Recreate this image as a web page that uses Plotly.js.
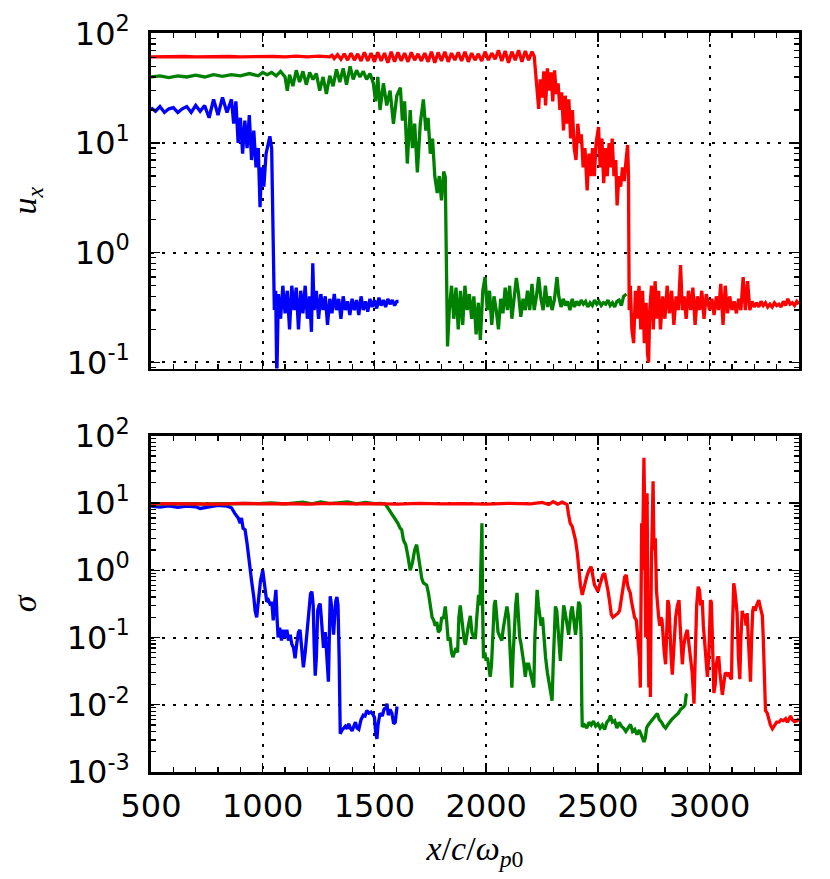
<!DOCTYPE html>
<html>
<head>
<meta charset="utf-8">
<script src="https://cdn.plot.ly/plotly-3.0.1.min.js"></script>
<style>
  html, body { margin: 0; padding: 0; background: #fff; }
  #graph { width: 830px; height: 879px; }
</style>
</head>
<body>
<div id="graph"></div>
<script>
// ---- top panel: u_x ----
var uxBlueX = [500,520,540,560,580,600,620,640,660,680,700,720,740,760,780,800,820,840,860,870,880,890,900,910,920,930,940,950,960,970,980,988,995,1005,1015,1025,1032,1040,1047,1052,1058,1063,1070,1080,1090,1100,1110,1120,1130,1140,1150,1160,1170,1180,1190,1200,1210,1218,1224,1230,1240,1250,1260,1270,1280,1290,1300,1310,1320,1330,1340,1350,1360,1370,1380,1390,1400,1410,1420,1430,1440,1450,1460,1470,1480,1490,1500,1510,1520,1530,1540,1550,1560,1570,1580,1590,1600,1608];
var uxBlueY = [21,19.5,21.5,19,20.5,21,19,20.5,21.5,19,22,19.5,22,17,25,18,26,19,25,15,24,10,17,8,16,9,18,7,13,6,9,2.6,6,4,8,10,11.5,9,0.6,0.3,0.45,0.07,0.42,0.25,0.5,0.28,0.45,0.2,0.5,0.3,0.48,0.2,0.45,0.28,0.5,0.25,0.4,0.19,0.8,0.3,0.45,0.25,0.42,0.3,0.4,0.22,0.38,0.28,0.42,0.3,0.38,0.25,0.4,0.3,0.36,0.27,0.38,0.3,0.37,0.27,0.4,0.3,0.36,0.29,0.38,0.32,0.37,0.31,0.39,0.33,0.37,0.32,0.38,0.34,0.37,0.33,0.36,0.36];

var uxGreenX = [500,540,580,620,660,700,740,780,820,860,900,940,980,1000,1020,1040,1060,1080,1100,1110,1120,1135,1150,1165,1180,1195,1210,1225,1240,1255,1270,1285,1300,1315,1330,1345,1360,1375,1391,1405,1420,1435,1450,1465,1480,1495,1505,1515,1525,1540,1555,1570,1585,1600,1616,1625,1635,1647,1660,1670,1680,1692,1705,1719,1730,1740,1750,1760,1770,1781,1790,1800,1810,1817,1822,1827,1835,1845,1855,1865,1875,1885,1895,1905,1915,1925,1935,1945,1955,1965,1974,1985,1995,2005,2015,2025,2035,2045,2055,2065,2075,2085,2095,2105,2115,2125,2135,2145,2155,2165,2175,2185,2195,2205,2215,2225,2235,2245,2255,2265,2275,2285,2295,2305,2317,2325,2335,2345,2355,2365,2375,2385,2395,2405,2415,2425,2435,2445,2455,2465,2475,2485,2495,2505,2515,2525,2535,2545,2555,2565,2575,2585,2595,2605,2615,2628];
var uxGreenY = [40,41,39.5,41,40,41.5,40,42,40.5,42,41,43,41,44,42,44,41,45,40,30,42,33,46,36,45,34,44,38,43,30,40,28,41,33,47,36,48,34,50,38,46,40,45,38,43,35,24,40,20,35,22,30,15,27,32,16,24,6.5,20,9,15,5.4,15,25,13,17,8,11,5,3.5,5,3,5.5,4.9,0.8,0.14,0.3,0.5,0.25,0.48,0.2,0.45,0.22,0.5,0.3,0.42,0.25,0.4,0.18,0.35,0.16,0.45,0.6,0.3,0.45,0.22,0.4,0.3,0.2,0.38,0.28,0.48,0.3,0.5,0.25,0.4,0.59,0.42,0.26,0.38,0.3,0.45,0.3,0.52,0.3,0.4,0.6,0.38,0.3,0.5,0.32,0.4,0.3,0.37,0.6,0.4,0.32,0.38,0.33,0.36,0.3,0.38,0.32,0.36,0.33,0.37,0.34,0.36,0.32,0.35,0.33,0.37,0.34,0.36,0.33,0.35,0.34,0.37,0.33,0.35,0.32,0.36,0.37,0.33,0.4,0.42];

var uxRedX = [500,550,600,650,700,750,800,850,900,950,1000,1050,1100,1150,1200,1250,1300,1310,1320,1335,1350,1365,1380,1395,1410,1425,1440,1455,1470,1485,1500,1515,1530,1545,1560,1575,1590,1605,1620,1635,1650,1665,1680,1695,1710,1725,1740,1755,1770,1785,1800,1815,1830,1845,1860,1875,1890,1905,1920,1935,1950,1965,1980,1995,2010,2025,2040,2055,2070,2085,2100,2115,2130,2145,2160,2175,2190,2205,2215,2222,2228,2235,2242,2250,2258,2266,2274,2282,2290,2298,2306,2314,2322,2330,2338,2346,2354,2362,2370,2378,2386,2394,2402,2410,2418,2426,2434,2442,2452,2460,2468,2476,2484,2492,2503,2510,2518,2526,2534,2542,2550,2557,2564,2572,2580,2586,2594,2602,2610,2618,2626,2633,2637,2640,2645,2652,2660,2668,2676,2684,2692,2700,2708,2716,2722,2727,2732,2740,2748,2756,2764,2772,2780,2790,2800,2810,2820,2830,2840,2850,2860,2870,2878,2886,2895,2905,2915,2925,2935,2945,2955,2965,2975,2985,3000,3010,3020,3030,3040,3050,3060,3070,3080,3090,3100,3110,3120,3130,3140,3150,3160,3170,3180,3190,3200,3210,3220,3230,3240,3250,3260,3270,3280,3290,3300,3310,3320,3330,3340,3350,3360,3370,3380,3390,3400];
var uxRedY = [61,61.5,61,61.5,61,61.5,61,61.5,61,61.5,61,61.5,61,62,61,62,61,63,59,64,58,65,57,66,57,65,56,67,56,66,55,67,56,66,54,68,55,67,56,66,55,67,57,65,56,66,55,68,54,67,56,68,55,66,57,67,56,68,55,66,57,65,56,68,57,66,58,70,56,69,54,68,57,70,55,69,57,68,62,40,28,20.5,38,26,45,22,48,30,44,24,46,28,35,20,29,13,27,15,25,11,20,9,7,15,10,12,6,9,3.7,8,5,9,5,10,14,6,11,4.3,9,5,10,6,11,5,7,2.7,5,4,6,4.5,7,9.6,5,0.3,0.5,0.2,0.15,0.45,0.25,0.5,0.2,0.45,0.15,0.35,0.12,0.1,0.3,0.5,0.2,0.55,0.25,0.45,0.2,0.4,0.25,0.5,0.28,0.45,0.22,0.4,0.3,0.77,0.3,0.4,0.25,0.45,0.3,0.48,0.22,0.4,0.3,0.45,0.25,0.42,0.3,0.38,0.27,0.4,0.3,0.52,0.22,0.5,0.28,0.4,0.3,0.36,0.28,0.38,0.3,0.6,0.3,0.55,0.3,0.36,0.32,0.35,0.32,0.36,0.33,0.35,0.32,0.34,0.32,0.35,0.33,0.34,0.32,0.36,0.33,0.38,0.34,0.35,0.33,0.36,0.34];

// ---- bottom panel: sigma ----
var sigBlueX = [500,540,580,620,660,700,720,760,800,840,860,875,890,899,905,912,921,930,943,950,960,966,973,982,990,1000,1008,1018,1025,1035,1041,1047,1053,1059,1064,1069,1076,1084,1092,1100,1108,1115,1123,1130,1138,1145,1152,1160,1167,1172,1177,1182,1190,1200,1208,1214,1220,1226,1230,1235,1240,1246,1252,1257,1262,1267,1272,1280,1286,1294,1298,1302,1308,1313,1317,1322,1327,1332,1337,1342,1347,1355,1362,1370,1378,1385,1392,1400,1408,1415,1422,1430,1440,1450,1458,1466,1475,1485,1495,1500,1505,1511,1516,1525,1535,1545,1550,1556,1562,1570,1578,1586,1593,1601];
var sigBlueY = [9.0,8.7,9.1,8.6,9.0,8.8,8.3,8.8,9.2,9.0,8.5,7,6,5,6,4.2,4,2.5,1.0,0.7,0.4,0.25,0.2,0.35,0.7,1.0,0.6,0.34,0.36,0.3,0.34,0.18,0.32,0.51,0.2,0.1,0.14,0.09,0.13,0.1,0.13,0.09,0.11,0.08,0.07,0.049,0.08,0.12,0.13,0.08,0.045,0.036,0.06,0.15,0.3,0.45,0.48,0.3,0.08,0.027,0.05,0.25,0.3,0.32,0.2,0.09,0.07,0.12,0.05,0.022,0.1,0.41,0.3,0.15,0.11,0.2,0.35,0.4,0.3,0.05,0.0037,0.0042,0.0045,0.0048,0.0044,0.0052,0.0045,0.0041,0.0048,0.0055,0.0045,0.0043,0.006,0.007,0.0068,0.0082,0.0075,0.0078,0.007,0.0065,0.004,0.0031,0.005,0.0075,0.0068,0.009,0.0085,0.0104,0.007,0.0085,0.0075,0.0052,0.0055,0.0094];

var sigGreenX = [500,560,620,680,740,800,860,920,980,1040,1100,1140,1180,1220,1260,1300,1340,1380,1420,1460,1500,1530,1550,1560,1575,1586,1595,1605,1615,1622,1630,1640,1650,1660,1670,1680,1689,1697,1705,1712,1719,1727,1734,1742,1750,1758,1765,1772,1779,1786,1794,1801,1809,1817,1823,1830,1838,1845,1851,1858,1865,1872,1878,1884,1890,1897,1902,1907,1914,1920,1929,1936,1944,1952,1958,1966,1972,1978,1981,1984,1988,1994,2000,2006,2012,2018,2024,2030,2036,2041,2047,2053,2058,2063,2070,2077,2085,2093,2100,2106,2110,2115,2120,2126,2132,2138,2144,2150,2156,2162,2169,2175,2182,2190,2197,2205,2213,2218,2223,2228,2234,2240,2246,2252,2258,2266,2274,2282,2289,2295,2300,2305,2310,2316,2322,2327,2332,2338,2343,2347,2352,2358,2363,2369,2375,2380,2385,2390,2395,2400,2405,2409,2414,2420,2425,2428,2430,2440,2450,2460,2470,2480,2490,2500,2510,2520,2530,2540,2550,2556,2565,2575,2585,2595,2605,2615,2625,2635,2646,2655,2665,2675,2685,2695,2700,2706,2712,2718,2725,2735,2745,2755,2766,2775,2785,2795,2803,2812,2820,2830,2840,2850,2860,2870,2880,2885,2890,2895,2900];
var sigGreenY = [9.6,9.7,9.6,9.8,9.6,9.8,9.7,9.9,9.8,10,9.7,9.9,10.3,9.7,10.4,9.8,10.2,10.4,9.7,10.2,9.8,9.9,9.5,8.5,7,6.3,5.5,5,4.2,4,2.8,2.4,1.6,1.0,1.3,2,2.4,1.5,1.0,0.75,0.65,0.62,0.6,0.45,0.3,0.2,0.18,0.15,0.17,0.12,0.13,0.2,0.19,0.29,0.18,0.09,0.1,0.06,0.051,0.06,0.07,0.06,0.2,0.3,0.2,0.1,0.09,0.078,0.12,0.15,0.21,0.12,0.1,0.1,0.2,0.43,0.3,1.2,5.0,0.3,0.049,0.06,0.045,0.05,0.035,0.026,0.04,0.15,0.3,0.36,0.2,0.12,0.11,0.1,0.09,0.14,0.2,0.29,0.2,0.06,0.03,0.018,0.05,0.15,0.3,0.46,0.25,0.1,0.08,0.06,0.04,0.026,0.04,0.04,0.03,0.025,0.018,0.1,0.35,0.51,0.3,0.2,0.15,0.2,0.1,0.05,0.03,0.02,0.015,0.0115,0.04,0.15,0.29,0.25,0.12,0.07,0.045,0.1,0.2,0.3,0.25,0.2,0.15,0.11,0.18,0.25,0.29,0.2,0.15,0.11,0.16,0.25,0.34,0.3,0.1,0.01,0.0047,0.005,0.0045,0.0055,0.005,0.0057,0.0048,0.0052,0.0045,0.005,0.0043,0.0055,0.006,0.0069,0.0055,0.0058,0.0045,0.0055,0.0048,0.0045,0.004,0.0045,0.0051,0.004,0.0043,0.0036,0.0042,0.0035,0.0032,0.0028,0.0032,0.0045,0.005,0.0055,0.006,0.0068,0.0074,0.006,0.0055,0.0048,0.0045,0.005,0.0055,0.006,0.0065,0.007,0.0075,0.0085,0.009,0.0094,0.01,0.014,0.0145];

var sigRedX = [500,600,700,800,900,1000,1100,1200,1300,1400,1500,1600,1700,1800,1900,2000,2100,2200,2250,2280,2300,2320,2340,2355,2362,2368,2376,2385,2392,2400,2408,2415,2422,2430,2440,2450,2460,2470,2478,2485,2492,2500,2508,2515,2522,2530,2538,2545,2552,2560,2567,2575,2582,2590,2597,2605,2612,2620,2627,2633,2640,2645,2650,2657,2664,2672,2680,2686,2690,2693,2696,2699,2702,2706,2710,2714,2717,2720,2724,2728,2731,2735,2739,2743,2747,2751,2757,2762,2767,2772,2777,2782,2787,2792,2797,2803,2808,2813,2818,2823,2828,2833,2840,2848,2856,2863,2868,2873,2878,2883,2890,2900,2908,2915,2922,2930,2936,2942,2949,2955,2960,2967,2972,2978,2984,2990,2996,3000,3004,3008,3013,3019,3025,3030,3036,3041,3046,3052,3057,3063,3070,3079,3086,3093,3098,3101,3104,3108,3113,3118,3123,3129,3135,3140,3146,3152,3158,3163,3168,3173,3178,3183,3188,3193,3198,3204,3210,3215,3220,3225,3230,3236,3240,3245,3250,3258,3265,3272,3281,3290,3300,3310,3320,3330,3340,3348,3355,3362,3370,3380,3392,3400];
var sigRedY = [9.8,9.7,9.8,9.6,9.9,9.7,9.8,9.6,9.9,9.7,9.8,9.6,9.9,9.7,9.8,9.6,9.9,9.7,10.2,9.5,10.5,9.6,10.3,9.8,9.5,7,5,4.5,3.5,2.8,1.8,1.0,0.6,0.43,0.6,0.8,1.0,1.13,0.8,0.6,0.55,0.48,0.6,0.75,0.85,0.9,0.7,0.5,0.35,0.22,0.2,0.21,0.22,0.23,0.25,0.4,0.6,0.8,0.85,0.6,0.5,0.46,0.35,0.25,0.2,0.18,0.1,0.05,0.018,0.5,5,1,10,47,5,0.1,0.5,14,0.2,0.018,0.3,0.013,1,10,21,2,3,0.5,0.25,0.2,0.15,0.2,0.18,0.08,0.06,0.04,0.15,0.36,0.3,0.08,0.05,0.028,0.08,0.2,0.3,0.36,0.15,0.06,0.04,0.07,0.1,0.13,0.08,0.05,0.03,0.0104,0.05,0.3,0.57,0.5,0.3,0.36,0.15,0.08,0.04,0.026,0.05,0.2,0.36,0.33,0.1,0.015,0.02,0.04,0.05,0.05,0.03,0.02,0.014,0.02,0.03,0.028,0.03,0.025,0.024,0.1,0.4,0.64,0.5,0.3,0.23,0.05,0.024,0.1,0.25,0.2,0.22,0.15,0.23,0.1,0.04,0.022,0.1,0.25,0.29,0.25,0.3,0.33,0.36,0.3,0.25,0.21,0.1,0.02,0.0082,0.0075,0.006,0.005,0.0044,0.005,0.0055,0.0055,0.006,0.0058,0.0062,0.0055,0.0062,0.0068,0.006,0.0056,0.0058,0.0062];

var xTickVals = [500, 1000, 1500, 2000, 2500, 3000];
var uxTickExp = [-1, 0, 1, 2];
var sigTickExp = [-3, -2, -1, 0, 1, 2];

var BLUE = '#0000ff', GREEN = '#008000', RED = '#ff0000';
var LW = 3.3;

function tr(x, y, color, xa, ya) {
  return { x: x, y: y, type: 'scatter', mode: 'lines', xaxis: xa, yaxis: ya,
           line: { color: color, width: LW }, hoverinfo: 'skip' };
}

var data = [
  tr(uxBlueX, uxBlueY, BLUE, 'x2', 'y2'),
  tr(uxGreenX, uxGreenY, GREEN, 'x2', 'y2'),
  tr(uxRedX, uxRedY, RED, 'x2', 'y2'),
  tr(sigBlueX, sigBlueY, BLUE, 'x', 'y'),
  tr(sigGreenX, sigGreenY, GREEN, 'x', 'y'),
  tr(sigRedX, sigRedY, RED, 'x', 'y')
];

// minor tick spots for the log axes (2..9 of each decade)
function minorLog(lo, hi) {
  var v = [];
  for (var e = lo; e <= hi; e++)
    for (var m = 2; m <= 9; m++) v.push(m * Math.pow(10, e));
  return v;
}
function pow10Labels(exps) {
  return exps.map(function (e) { return '10<sup>' + e + '</sup>'; });
}

var tickFont = { family: 'DejaVu Sans', size: 32, color: '#000' };
var gridDash = '3px,8px';

var xCommon = {
  range: [500, 3400], showline: true, linewidth: 2.8, linecolor: '#000', mirror: 'allticks',
  ticks: 'inside', ticklen: 9, tickwidth: 1.4, tickcolor: '#000',
  tickmode: 'array', tickvals: xTickVals,
  showgrid: true, gridcolor: '#000', gridwidth: 2, griddash: gridDash,
  minor: { ticks: 'inside', ticklen: 5, tickwidth: 1.2, tickcolor: '#000', dtick: 100, showgrid: false },
  zeroline: false, tickfont: tickFont
};

function yCommon(lo, hi, exps, domain, title) {
  return {
    type: 'log', range: [lo, hi], domain: domain,
    showline: true, linewidth: 2.8, linecolor: '#000', mirror: 'allticks',
    ticks: 'inside', ticklen: 9, tickwidth: 1.4, tickcolor: '#000',
    tickmode: 'array', tickvals: exps.map(function (e) { return Math.pow(10, e); }),
    ticktext: pow10Labels(exps),
    showgrid: true, gridcolor: '#000', gridwidth: 2, griddash: gridDash,
    minor: { ticks: 'inside', ticklen: 5, tickwidth: 1.2, tickcolor: '#000',
             tickmode: 'array', tickvals: minorLog(exps[0] - 1, exps[exps.length - 1]), showgrid: false },
    zeroline: false, tickfont: tickFont, ticklabelstandoff: 12,
    title: { text: title, font: { family: 'Liberation Serif', size: 34, color: '#000' }, standoff: 20 }
  };
}

var layout = {
  width: 830, height: 879,
  margin: { l: 151, r: 31, t: 33, b: 107 },
  paper_bgcolor: '#fff', plot_bgcolor: '#fff',
  showlegend: false,
  xaxis: Object.assign({}, xCommon, {
    anchor: 'y', domain: [0, 1], ticklabelstandoff: 4,
    title: { text: '<i>x</i>/<i>c</i>/<i>ω</i><sub><i>p</i>0</sub>',
             font: { family: 'Liberation Serif', size: 34, color: '#000' }, standoff: 12 }
  }),
  xaxis2: Object.assign({}, xCommon, { anchor: 'y2', domain: [0, 1], matches: 'x', showticklabels: false }),
  yaxis: yCommon(-3, 2, sigTickExp, [0, 0.455], '<i>σ</i>'),
  yaxis2: yCommon(Math.log10(0.088), 2.003, uxTickExp, [0.546, 1], '<i>u</i><sub><i>x</i></sub>')
};
layout.yaxis.anchor = 'x';
layout.yaxis2.anchor = 'x2';

Plotly.newPlot('graph', data, layout, { staticPlot: true, displayModeBar: false });
</script>
</body>
</html>
